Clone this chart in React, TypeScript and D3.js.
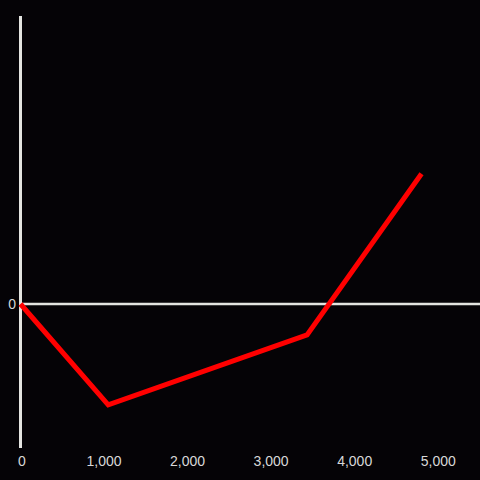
import React from "react";
import * as d3 from "d3";

const xValues = [0, 1050, 3430, 4800];
const yValues = [0, -700, -215, 905];
const xTicks = [0, 1000, 2000, 3000, 4000, 5000];
const yTicks = [0];

const W = 480;
const H = 480;

export default function App() {
  const x = d3.scaleLinear().domain([0, 5500]).range([20.5, 480]);
  const y = d3.scaleLinear().domain([-1000, 2000]).range([448, 16]);
  const pts = xValues.map((v, i) => [v, yValues[i]] as [number, number]);
  const line = d3
    .line<[number, number]>()
    .x((d) => x(d[0]))
    .y((d) => y(d[1]));
  const fmt = d3.format(",");
  const axisColor = "#e4e4e0";
  const textColor = "#d8d8d8";
  const font = "'Liberation Sans', Arial, sans-serif";
  return (
    <svg
      width={W}
      height={H}
      style={{ position: "absolute", left: 0, top: 0, display: "block" }}
    >
      <rect x={0} y={0} width={W} height={H} fill="#050306" />
      {/* y axis */}
      <line
        x1={x(0)}
        x2={x(0)}
        y1={y(2000)}
        y2={y(-1000)}
        stroke={axisColor}
        strokeWidth={3}
      />
      {/* zero line */}
      <line
        x1={x(0)}
        x2={480}
        y1={y(0)}
        y2={y(0)}
        stroke={axisColor}
        strokeWidth={2.5}
      />
      {yTicks.map((t) => (
        <text
          key={"y" + t}
          x={16}
          y={y(t)}
          dy="0.35em"
          textAnchor="end"
          fill={textColor}
          fontSize={14}
          fontFamily={font}
        >
          {fmt(t)}
        </text>
      ))}
      {xTicks.map((t) => (
        <text
          key={"x" + t}
          x={t === 0 ? 22 : x(t)}
          y={466}
          textAnchor="middle"
          fill={textColor}
          fontSize={14}
          fontFamily={font}
        >
          {fmt(t)}
        </text>
      ))}
      <path
        d={line(pts) || ""}
        fill="none"
        stroke="#ff0000"
        strokeWidth={5}
        strokeLinejoin="miter"
      />
    </svg>
  );
}
